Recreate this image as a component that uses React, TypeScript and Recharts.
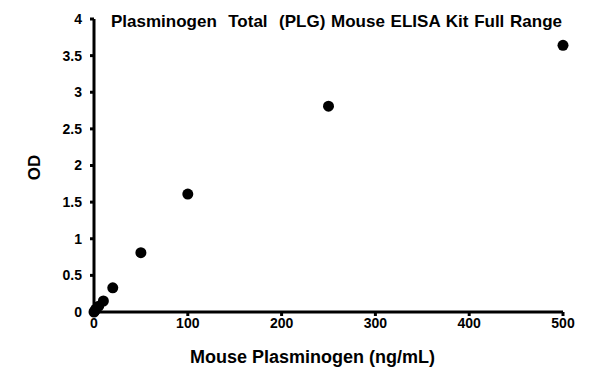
import { ScatterChart, Scatter, XAxis, YAxis, Label } from 'recharts';

const concentrations = [0, 1, 2, 5, 10, 20, 50, 100, 250, 500];
const odValues = [0.0, 0.02, 0.04, 0.08, 0.15, 0.33, 0.81, 1.61, 2.81, 3.64];
const xTicks = [0, 100, 200, 300, 400, 500];
const yTicks = [0, 0.5, 1, 1.5, 2, 2.5, 3, 3.5, 4];

const points = concentrations.map((c, i) => ({ x: c, y: odValues[i] }));

const font = '"Liberation Sans", Arial, sans-serif';

export default function App() {
  return (
    <div style={{ position: 'absolute', left: 0, top: 0, width: 596, height: 383, background: '#fff' }}>
      <div
        style={{
          position: 'absolute',
          left: 111,
          top: 12,
          fontFamily: font,
          fontWeight: 'bold',
          fontSize: 17,
          wordSpacing: 1,
          color: '#000',
          whiteSpace: 'pre',
          lineHeight: '20px',
        }}
      >
        {'Plasminogen  Total  (PLG) Mouse ELISA Kit Full Range'}
      </div>
      <ScatterChart width={596} height={383} margin={{ top: 19, right: 33, bottom: 0, left: 0 }}>
        <XAxis
          type="number"
          dataKey="x"
          domain={[0, 500]}
          ticks={xTicks}
          height={71}
          axisLine={{ stroke: '#000', strokeWidth: 3 }}
          tickLine={{ stroke: '#000', strokeWidth: 3 }}
          tickSize={4}
          tick={{ fill: '#000', fontSize: 14, fontWeight: 'bold', fontFamily: font }}
        >
          <Label
            value="Mouse Plasminogen (ng/mL)"
            position="insideBottom"
            offset={20}
            dx={-16}
            style={{ fill: '#000', fontSize: 18, fontWeight: 'bold', fontFamily: font }}
          />
        </XAxis>
        <YAxis
          type="number"
          dataKey="y"
          domain={[0, 4]}
          ticks={yTicks}
          width={94}
          axisLine={{ stroke: '#000', strokeWidth: 3 }}
          tickLine={{ stroke: '#000', strokeWidth: 3 }}
          tickSize={4}
          tickMargin={8}
          tick={{ fill: '#000', fontSize: 14, fontWeight: 'bold', fontFamily: font }}
        >
          <Label
            value="OD"
            angle={-90}
            position="insideLeft"
            offset={34}
            dy={2}
            style={{ fill: '#000', fontSize: 17, fontWeight: 'bold', fontFamily: font, textAnchor: 'middle' }}
          />
        </YAxis>
        <Scatter
          data={points}
          fill="#000"
          isAnimationActive={false}
          shape={(props: any) => <circle cx={props.cx} cy={props.cy} r={5.5} fill="#000" />}
        />
      </ScatterChart>
    </div>
  );
}
